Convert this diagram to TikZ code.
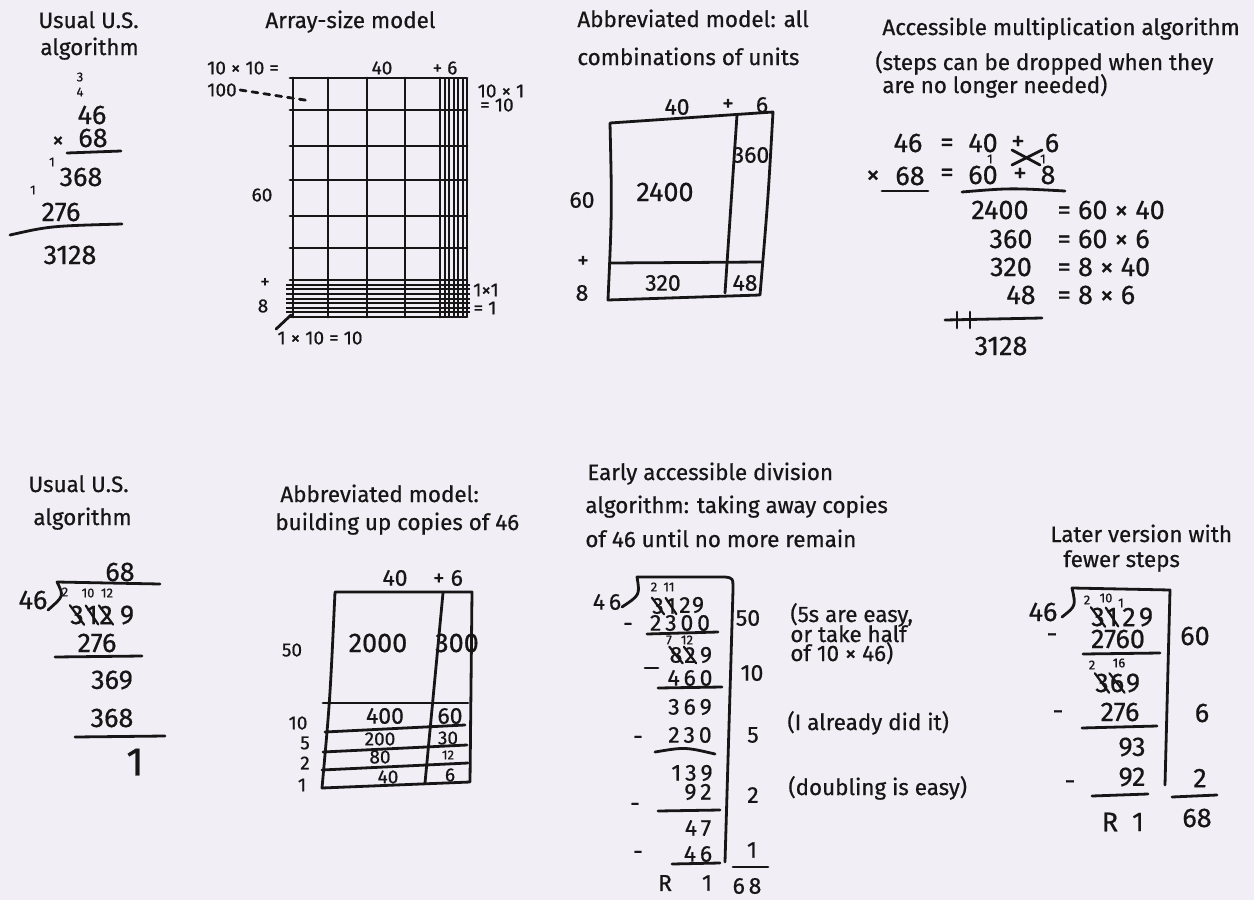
\documentclass[tikz,border=0pt]{standalone}
\usepackage{fontspec}
\setmainfont{Fira Sans}[FakeBold=0.6]
\definecolor{paper}{HTML}{F1EEF6}
\definecolor{ink}{HTML}{161616}
\begin{document}
\begin{tikzpicture}[x=0.5pt,y=-0.5pt,
  every node/.style={inner sep=0pt, text=ink},
  ttl/.style={anchor=base west, font=\fontsize{11.2}{12}\selectfont},
  numL/.style={font=\fontsize{13.5}{14}\selectfont},
  numM/.style={font=\fontsize{11.5}{12}\selectfont},
  numS/.style={font=\fontsize{9.5}{10}\selectfont},
  numT/.style={font=\fontsize{6.5}{7}\selectfont},
  pen/.style={draw=ink, line width=1.4pt, line cap=round, line join=round},
  gridl/.style={draw=ink, line width=1pt},
  strike/.style={draw=ink, line width=1.1pt, line cap=round}]
\useasboundingbox[fill=paper] (0,0) rectangle (1254,900);

% ---------- Panel 1: usual multiplication ----------
\node[ttl] (t1a) at (38,28) {Usual U.S.};
\node[ttl] (t1b) at (40,55) {algorithm};
\node[numT] (p1c3) at (80,77) {3};
\node[numT] (p1c4) at (80,92) {4};
\node[numL] (p1a) at (92,115) {46};
\node[numM] (p1x) at (58,142) {×};
\node[numL] (p1b) at (93,138) {68};
\draw[pen] (67,153) -- (121,151);
\node[numT] (p1c1) at (52,162) {1};
\node[numL] (p1r1) at (81,177) {368};
\node[numT] (p1c2) at (33,190) {1};
\node[numL] (p1r2) at (61,212) {276};
\draw[pen] (10,235) .. controls (50,226) .. (122,224);
\node[numL] (p1s) at (70,255) {3128};

% ---------- Panel 2: array-size model ----------
\node[ttl] (t2) at (265,28) {Array-size model};
\foreach \y in {78,110,146,180,216,248,280,317} \draw[pen] (290,\y) -- (467,\y);
\foreach \i in {1,...,7} \draw[gridl] (286,{280+\i*4.625}) -- (470,{280+\i*4.625});
\foreach \x in {293,328,367,405,440} \draw[pen] (\x,78) -- (\x,317);
\foreach \i in {1,...,6} \draw[gridl] ({440+\i*4.5},78) -- ({440+\i*4.5},317);
\node[numS] (a1010) at (243,68) {10 × 10 =};
\node[numS] (a100) at (222,90) {100};
\coordinate (a100end) at (311,101);
\draw[pen, dashed] (a100.east) ++(3,0) -- (a100end);
\node[numS] (a40) at (382,68) {40};
\node[numS] (a6) at (445,68) {+ 6};
\node[numS] (a101) at (501,91) {10 × 1};
\node[numS] (a10) at (497,105) {= 10};
\node[numS] (a60) at (262,195) {60};
\node[numS] (aplus) at (265,283) {+};
\node[numS] (a8) at (263,306) {8};
\node[numS] (a11) at (486,290) {1×1};
\node[numS] (a1) at (485,308) {= 1};
\node[numS] (a110) at (320,338) {1 × 10 = 10};
\coordinate (a110end) at (291,315);
\draw[pen] (a110.north west) ++(-1,-2) -- (a110end);

% ---------- Panel 3: all combinations of units ----------
\node[ttl] (t3a) at (577,27) {Abbreviated model: all};
\node[ttl] (t3b) at (577,65) {combinations of units};
\draw[pen] (610,123) -- (773,112) .. controls (768,200) .. (760,295) -- (608,300) .. controls (612,210) .. cycle;
\draw[pen] (737,115) -- (725,293);
\draw[pen] (610,263) -- (762,262);
\node[numM] (b40) at (677,107) {40};
\node[numM] (bp) at (728,105) {+};
\node[numM] (b6) at (762,105) {6};
\node[numM] (b360) at (751,155) {360};
\node[numL] (b2400) at (665,192) {2400};
\node[numM] (b60) at (582,200) {60};
\node[numM] (bplus) at (583,262) {+};
\node[numM] (b8) at (582,293) {8};
\node[numM] (b320) at (663,283) {320};
\node[numM] (b48) at (745,283) {48};

% ---------- Panel 4: accessible multiplication ----------
\node[ttl] (t4a) at (882,35) {Accessible multiplication algorithm};
\node[ttl] (t4b) at (875,70) {(steps can be dropped when they};
\node[ttl] (t4c) at (882,93) {are no longer needed)};
\node[numL] (c46) at (908,143) {46};
\node[numL] (ceq1) at (947,145) {=};
\node[numL] (c40) at (983,143) {40};
\node[numL] (cp1) at (1018,143) {+};
\node[numL] (c6) at (1052,143) {6};
\node[numL] (cx) at (873,177) {×};
\node[numL] (c68) at (910,176) {68};
\node[numL] (ceq2) at (947,175) {=};
\node[numL] (c60) at (983,175) {60};
\node[numL] (cp2) at (1020,175) {+};
\node[numL] (c8) at (1048,175) {8};
\node[numT] (cc1) at (990,159) {1};
\node[numT] (cc2) at (1043,159) {1};
\draw[pen] (1012,150) -- (1040,165);
\draw[pen] (1012,165) -- (1042,150);
\draw[pen] (882,191) -- (928,191);
\draw[pen] (962,192) .. controls (1010,188) .. (1065,191);
\node[numL] (c2400) at (1000,210) {2400};
\node[numL, anchor=west] (c2400r) at (1057,210) {= 60 × 40};
\node[numL] (c360) at (1011,239) {360};
\node[numL, anchor=west] (c360r) at (1057,239) {= 60 × 6};
\node[numL] (c320) at (1011,267) {320};
\node[numL, anchor=west] (c320r) at (1057,267) {= 8 × 40};
\node[numL] (c48) at (1021,295) {48};
\node[numL, anchor=west] (c48r) at (1057,295) {= 8 × 6};
\draw[pen] (945,320) -- (1042,318);
\draw[pen] (957,312) -- (957,328);
\draw[pen] (970,312) -- (970,328);
\node[numL] (c3128) at (1001,346) {3128};

% ---------- Panel 5: usual division ----------
\node[ttl] (t5a) at (28,492) {Usual U.S.};
\node[ttl] (t5b) at (33,525) {algorithm};
\node[numL] (d46) at (33,600) {46};
\draw[pen] (160,584) -- (57,582) .. controls (64,596) .. (48,610);
\node[numL] (d68) at (120,572) {68};
\node[numT] (dc2) at (65,592) {2};
\node[numT] (dc10) at (88,593) {10};
\node[numT] (dc12) at (107,593) {12};
\node[numL] (dd3) at (77,615) {3};
\node[numL] (dd1) at (92,615) {1};
\node[numL] (dd2) at (106,615) {2};
\node[numL] (dd9) at (127,615) {9};
\foreach \n in {dd3,dd1,dd2} \draw[strike] (\n.north west) -- (\n.south east);
\node[numL] (d276) at (97,643) {276};
\draw[pen] (55,657) -- (142,656);
\node[numL] (d369) at (112,680) {369};
\node[numL] (d368) at (112,718) {368};
\draw[pen] (75,737) -- (165,736);
\node[font=\fontsize{20}{20}\selectfont] (drem) at (135,762) {1};

% ---------- Panel 6: building up copies ----------
\node[ttl] (t6a) at (280,502) {Abbreviated model:};
\node[ttl] (t6b) at (275,530) {building up copies of 46};
\draw[pen] (335,592) -- (472,592) -- (470,782) -- (322,788) .. controls (330,700) .. cycle;
\draw[pen] (443,593) -- (425,783);
\draw[pen] (323,703) -- (468,703);
\draw[pen] (325,732) -- (465,725);
\draw[pen] (323,752) -- (467,745);
\draw[pen] (322,770) -- (468,763);
\node[numM] (e40) at (395,578) {40};
\node[numM] (e6) at (448,578) {+ 6};
\node[numL] (e2000) at (378,643) {2000};
\node[numL] (e300) at (457,643) {300};
\node[numS] (e50) at (292,650) {50};
\node[numM] (e400) at (385,716) {400};
\node[numM] (e60) at (450,716) {60};
\node[numS] (e200) at (380,739) {200};
\node[numS] (e30) at (448,738) {30};
\node[numS] (e80) at (380,757) {80};
\node[numT] (e12) at (448,755) {12};
\node[numS] (e40b) at (388,777) {40};
\node[numS] (e6b) at (450,775) {6};
\node[numS] (e10) at (298,723) {10};
\node[numS] (e5) at (305,743) {5};
\node[numS] (e2) at (305,763) {2};
\node[numS] (e1) at (302,785) {1};

% ---------- Panel 7: early accessible division ----------
\node[ttl] (t7a) at (587,480) {Early accessible division};
\node[ttl] (t7b) at (585,513) {algorithm: taking away copies};
\node[ttl] (t7c) at (585,547) {of 46 until no more remain};
\node[numM] (f46) at (607,602) {4\,6};
\draw[pen] (622,607) .. controls (640,595) .. (637,577) -- (725,577) .. controls (733,578) .. (733,590) -- (725,862);
\node[numT] (fc2) at (654,587) {2};
\node[numT] (fc11) at (669,587) {11};
\node[numM] (fd3) at (658,606) {3};
\node[numM] (fd1) at (671,606) {1};
\node[numM] (fd2) at (685,605) {2};
\node[numM] (fd9) at (698,605) {9};
\foreach \n in {fd3,fd1} \draw[strike] (\n.north west) -- (\n.south east);
\node[numM] (fm1) at (628,627) {-};
\node[numM] (f2300) at (680,623) {2\,3\,0\,0};
\draw[pen] (647,634) -- (718,632);
\node[numT] (fc7) at (669,640) {7};
\node[numT] (fc12) at (687,640) {12};
\node[numM] (fe8) at (676,655) {8};
\node[numM] (fe2) at (690,655) {2};
\node[numM] (fe9) at (706,655) {9};
\foreach \n in {fe8,fe2} \draw[strike] (\n.north west) -- (\n.south east);
\draw[pen] (645,668) -- (658,668);
\node[numM] (f460) at (690,678) {4\,6\,0};
\draw[pen] (658,688) -- (722,687);
\node[numM] (f369) at (690,707) {3\,6\,9};
\node[numM] (fm3) at (638,740) {-};
\node[numM] (f230) at (690,735) {2\,3\,0};
\draw[pen] (655,752) .. controls (685,747) .. (715,754);
\node[numM] (f139) at (692,773) {1\,3\,9};
\node[numM] (fm4) at (635,807) {-};
\node[numM] (f92) at (698,792) {9\,2};
\draw[pen] (658,811) -- (720,810);
\node[numM] (f47) at (698,828) {4\,7};
\node[numM] (fm5) at (638,855) {-};
\node[numM] (f46b) at (698,854) {4\,6};
\draw[pen] (672,864) -- (720,863);
\node[numM] (fR) at (665,883) {R};
\node[numM] (fR1) at (707,883) {1};
\node[numM] (q50) at (748,618) {50};
\node[numM] (q10) at (752,673) {10};
\node[numM] (q5) at (753,735) {5};
\node[numM] (q2) at (753,795) {2};
\node[numM] (q1) at (752,850) {1};
\draw[pen] (733,867) -- (768,867);
\node[numM] (q68) at (747,886) {6\,8};
\node[ttl] (n1a) at (790,622) {(5s are easy,};
\node[ttl] (n1b) at (790,642) {or take half};
\node[ttl] (n1c) at (790,661) {of 10 × 46)};
\node[ttl] (n2) at (787,730) {(I already did it)};
\node[ttl] (n3) at (788,795) {(doubling is easy)};

% ---------- Panel 8: later version ----------
\node[ttl] (t8a) at (1050,542) {Later version with};
\node[ttl] (t8b) at (1063,567) {fewer steps};
\node[numL] (g46) at (1043,612) {46};
\draw[pen] (1062,617) .. controls (1076,606) .. (1072,588) -- (1170,590) -- (1165,785);
\node[numT] (gc2) at (1087,600) {2};
\node[numT] (gc10) at (1106,598) {10};
\node[numT] (gc1) at (1121,603) {1};
\node[numL] (gd3) at (1098,617) {3};
\node[numL] (gd1) at (1112,617) {1};
\node[numL] (gd2) at (1129,617) {2};
\node[numL] (gd9) at (1146,617) {9};
\foreach \n in {gd3,gd1} \draw[strike] (\n.north west) -- (\n.south east);
\node[numL] (gm1) at (1052,638) {-};
\node[numL] (g2760) at (1118,639) {2760};
\draw[pen] (1083,654) -- (1160,653);
\node[numL] (g60) at (1195,636) {60};
\node[numT] (gc2b) at (1092,665) {2};
\node[numT] (gc16) at (1119,663) {16};
\node[numL] (ge3) at (1102,683) {3};
\node[numL] (ge6) at (1117,683) {6};
\node[numL] (ge9) at (1133,683) {9};
\foreach \n in {ge3,ge6} \draw[strike] (\n.north west) -- (\n.south east);
\node[numL] (gm2) at (1058,715) {-};
\node[numL] (g276) at (1120,712) {276};
\draw[pen] (1082,728) -- (1157,726);
\node[numL] (g6) at (1202,713) {6};
\node[numL] (g93) at (1132,747) {93};
\node[numL] (gm3) at (1070,785) {-};
\node[numL] (g92) at (1132,777) {92};
\node[numL] (g2) at (1200,778) {2};
\draw[pen] (1092,796) -- (1148,794);
\draw[pen] (1172,797) -- (1217,795);
\node[numL] (gR) at (1110,822) {R};
\node[numL] (gR1) at (1138,822) {1};
\node[numL] (g68) at (1197,818) {68};
\end{tikzpicture}
\end{document}
